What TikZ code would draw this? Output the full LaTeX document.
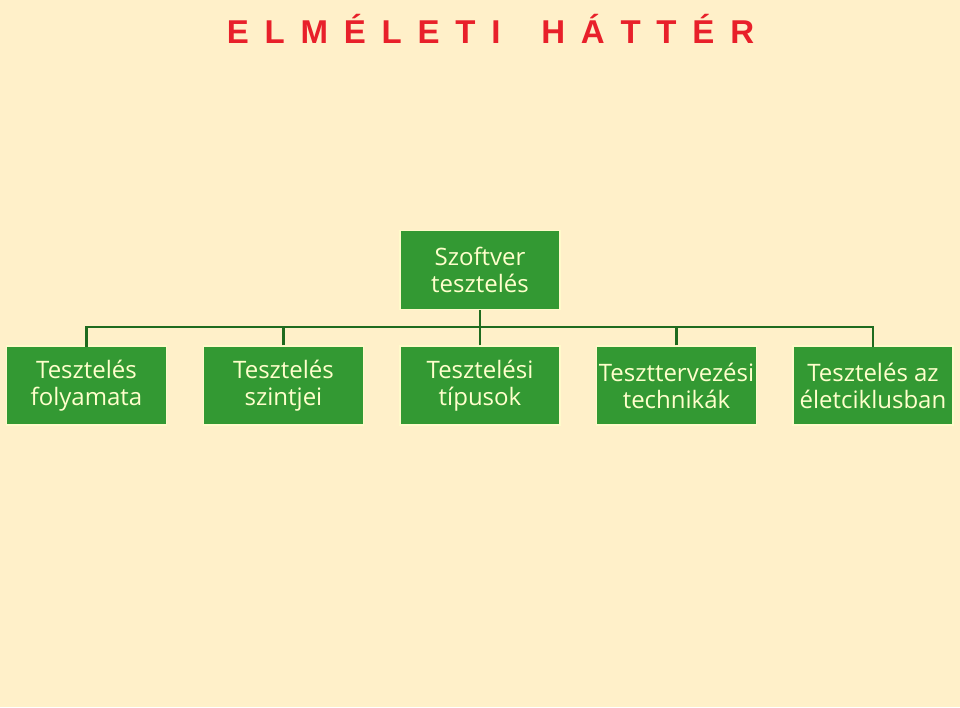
\documentclass[tikz,border=0pt]{standalone}
\usepackage{fontspec}
\setmainfont{Open Sans}
\newfontfamily\titlefont{Liberation Sans Bold}
\definecolor{bg}{HTML}{FFF0C9}
\definecolor{boxgreen}{HTML}{339933}
\definecolor{linegreen}{HTML}{1F6B1F}
\definecolor{txt}{HTML}{FFFFCC}
\definecolor{titlered}{HTML}{E8202A}
\newcommand\tgap{\hspace{15.8pt}}
\newcommand\wgap{\hspace{40.7pt}}
\begin{document}
\begin{tikzpicture}[x=1pt,y=-1pt,
  tbox/.style={draw=txt!70!bg, line width=1.5pt, fill=boxgreen, minimum width=160pt, minimum height=79pt,
    text=txt, align=center, font=\fontsize{24}{27}\selectfont, inner sep=0pt},
  ttl/.style={text=titlered, font=\titlefont\fontsize{33}{36}\selectfont, inner sep=0pt, anchor=base west},
  conn/.style={draw=linegreen, line width=2.5pt}]
\fill[bg] (0,0) rectangle (960,707);
\useasboundingbox (0,0) rectangle (960,707);
\node[ttl] (title) at (226.6,43) {E\tgap L\tgap M\tgap É\tgap L\tgap E\tgap T\tgap I\wgap H\tgap Á\tgap T\tgap T\tgap É\tgap R};
\node[tbox] (root) at (480,270) {Szoftver\\tesztelés};
\node[tbox] (c1) at (86.5,385.5) {Tesztelés\\folyamata};
\node[tbox] (c2) at (283.5,385.5) {Tesztelés\\szintjei};
\node[tbox] (c3) at (480,385.5) {Tesztelési\\típusok};
\node[tbox] (c4) at (676.5,385.5) {Teszttervezési\\technikák};
\node[tbox] (c5) at (873,385.5) {Tesztelés az\\életciklusban};
\coordinate (bus) at (480,327);
\draw[conn] (root.south) -- (bus);
\draw[conn, line cap=rect] (c1.north) |- (bus) -| (c5.north);
\draw[conn] (c2.north) -- (c2.north |- bus);
\draw[conn] (c3.north) -- (bus);
\draw[conn] (c4.north) -- (c4.north |- bus);
\end{tikzpicture}
\end{document}
